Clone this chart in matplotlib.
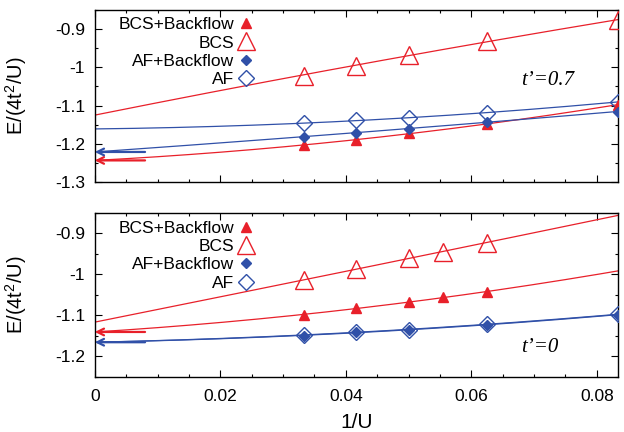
import matplotlib
matplotlib.use('Agg')
import matplotlib.pyplot as plt
import numpy as np
from matplotlib.ticker import MultipleLocator

plt.rcParams['font.family'] = ['Liberation Sans', 'DejaVu Sans']
plt.rcParams['mathtext.fontset'] = 'custom'
plt.rcParams['mathtext.rm'] = 'Liberation Sans'
plt.rcParams['mathtext.it'] = 'Liberation Sans:italic'

RED = '#e8202a'
BLUE = '#3050a8'

# ---- data ----
# top panel, t'=0.7
x_top = [1/30, 1/24, 1/20, 1/16, 1/12]
top_bcs_bf = [-1.203, -1.190, -1.172, -1.148, -1.098]
top_bcs = [-1.023, -0.996, -0.968, -0.931, -0.878]
top_af_bf = [-1.181, -1.171, -1.161, -1.142, -1.116]
top_af = [-1.145, -1.139, -1.132, -1.120, -1.090]
# extrapolated U -> infinity values
top_e0 = {'bcs_bf': -1.243, 'bcs': -1.125, 'af_bf': -1.221, 'af': -1.161}

# bottom panel, t'=0
x_bot_bcs = [1/30, 1/24, 1/20, 1/18, 1/16]
bot_bcs_bf = [-1.100, -1.082, -1.068, -1.057, -1.043]
bot_bcs = [-1.0145, -0.988, -0.961, -0.945, -0.923]
x_bot_af = [1/30, 1/24, 1/20, 1/16, 1/12]
bot_af_bf = [-1.150, -1.142, -1.136, -1.123, -1.099]
bot_af = [-1.149, -1.141, -1.135, -1.122, -1.098]
bot_e0 = {'bcs_bf': -1.141, 'bcs': -1.117, 'af_bf': -1.166, 'af': -1.166}


def fit_curve(x, y, e0):
    # quadratic in 1/U with fixed intercept e0
    x = np.asarray(x)
    A = np.column_stack([x, x**2])
    c, *_ = np.linalg.lstsq(A, np.asarray(y) - e0, rcond=None)
    xs = np.linspace(0, 1/12, 200)
    return xs, e0 + c[0]*xs + c[1]*xs**2


def panel(ax, xb, bcs_bf, bcs, xa, af_bf, af, e0, arrows, tlabel, tpos, legtop):
    for x, y, key, col in [(xb, bcs, 'bcs', RED), (xb, bcs_bf, 'bcs_bf', RED),
                           (xa, af, 'af', BLUE), (xa, af_bf, 'af_bf', BLUE)]:
        xs, ys = fit_curve(x, y, e0[key])
        ax.plot(xs, ys, color=col, lw=0.9, zorder=2)
    ax.plot(xb, bcs_bf, '^', color=RED, ms=7.5, ls='none', label='BCS+Backflow', zorder=4)
    ax.plot(xb, bcs, '^', mfc='none', mec=RED, mew=1.0, ms=12.5, ls='none', label='BCS', zorder=3)
    ax.plot(xa, af_bf, 'D', color=BLUE, ms=5.5, ls='none', label='AF+Backflow', zorder=4)
    ax.plot(xa, af, 'D', mfc='none', mec=BLUE, mew=1.0, ms=8.5, ls='none', label='AF', zorder=3)
    for key, col in arrows:
        ax.annotate('', xy=(0, e0[key]), xytext=(0.008, e0[key]),
                    arrowprops=dict(arrowstyle='->', color=col, lw=1.6,
                                    shrinkA=0, shrinkB=0, mutation_scale=12))
    ax.text(tpos[0], tpos[1], tlabel, transform=ax.transAxes, fontsize=15,
            family='Liberation Serif', style='italic', ha='left', va='center')
    ax.legend(loc='upper right', bbox_to_anchor=(0.306, legtop), frameon=False,
              markerfirst=False, fontsize=12.5, handlelength=1.0,
              handletextpad=0.2, labelspacing=0.18, borderpad=0,
              borderaxespad=0)
    ax.set_xlim(0, 1/12)
    ax.xaxis.set_major_locator(MultipleLocator(0.02))
    ax.xaxis.set_minor_locator(MultipleLocator(0.005))
    ax.yaxis.set_major_locator(MultipleLocator(0.1))
    ax.yaxis.set_minor_locator(MultipleLocator(0.05))
    ax.tick_params(which='both', direction='in', top=True, right=True, labelsize=12.5)
    ax.tick_params(which='major', length=5, width=0.8)
    ax.tick_params(which='minor', length=2.5, width=0.8)
    ax.tick_params(axis='y', which='major', pad=7)
    ax.tick_params(axis='x', which='major', pad=8.5)
    ax.set_ylabel(r'E/(4t$^2$/U)', fontsize=14.5)
    ax.yaxis.set_label_coords(-0.125, 0.5)
    for s in ax.spines.values():
        s.set_linewidth(1.0)
    ax.yaxis.set_major_formatter(plt.FuncFormatter(lambda v, p: '%g' % round(v, 2)))


fig = plt.figure(figsize=(6.24, 4.32), dpi=100)
ax1 = fig.add_axes([0.152, 0.578, 0.838, 0.400])
ax2 = fig.add_axes([0.152, 0.128, 0.838, 0.380])

panel(ax1, x_top, top_bcs_bf, top_bcs, x_top, top_af_bf, top_af, top_e0,
      [('bcs_bf', RED), ('af_bf', BLUE)], "t’=0.7", (0.815, 0.59), 0.956)
ax1.set_ylim(-1.3, -0.85)
ax1.tick_params(labelbottom=False)

panel(ax2, x_bot_bcs, bot_bcs_bf, bot_bcs, x_bot_af, bot_af_bf, bot_af, bot_e0,
      [('bcs_bf', RED), ('af', BLUE)], "t’=0", (0.815, 0.175), 0.95)
ax2.set_ylim(-1.25, -0.85)
ax2.set_xticks([0, 0.02, 0.04, 0.06, 0.08])
ax2.set_xticklabels(['0', '0.02', '0.04', '0.06', '0.08'])
ax2.set_xlabel('1/U', fontsize=15, labelpad=6.5)

fig.savefig('out.png', dpi=100)
